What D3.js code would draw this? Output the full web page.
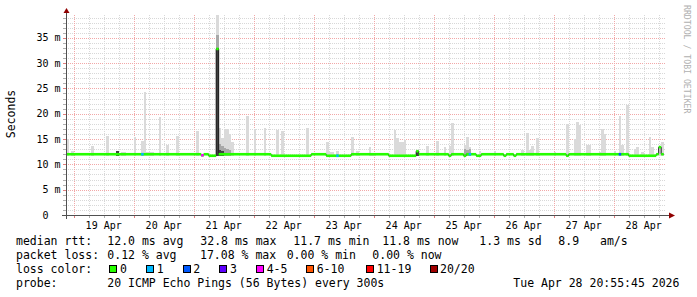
<!DOCTYPE html>
<html><head><meta charset="utf-8">
<script src="https://cdn.jsdelivr.net/npm/d3@7"></script>
<style>
html,body{margin:0;padding:0;background:#fff;}
svg{display:block;}
text{font-family:"DejaVu Sans Mono",monospace;white-space:pre;}
</style></head><body>
<svg id="c" width="697" height="297"></svg>
<script>
// ---------- DATA ----------
const startTime = new Date(2026,3,18,20,55,45);
const endTime   = new Date(2026,3,28,20,55,45);
const binOrigin = new Date(2026,3,19,0,0,0);   // hour bins counted from here
const yMax = 39.5;
const yTickValues = [0,5,10,15,20,25,30,35];
const yTickLabels = ["0","5 m","10 m","15 m","20 m","25 m","30 m","35 m"];
const yAxisTitle = "Seconds";

// smoke (ping spread) per hour bin, ms
const smokeBins = [-3,-1,7,13,17,19,20,24,27,28,29,30,31,34,37,41,49,57,58,59,60,61,62,63,69,72,76,81,83,93,101,102,103,105,111,113,118,119,120,128,129,130,131,132,137,141,145,148,150,151,156,157,158,162,168,179,181,182,183,185,192,197,200,201,202,205,206,210,211,212,216,218,219,221,224,225,227,230,231,234,235];
const smokeHi   = [15.0,12.6,13.6,15.7,12.6,12.5,12.5,15.5,14.7,24.3,12.5,12.5,12.5,19.3,13.8,15.7,16.5,39.5,17.2,15.2,17.0,16.9,16.0,14.5,19.6,17.0,17.1,16.7,16.6,17.1,14.5,12.4,12.4,12.6,15.5,12.6,13.4,12.3,12.3,16.7,15.3,14.4,14.4,14.8,12.8,13.7,14.7,13.4,13.7,18.2,13.9,15.4,13.5,12.7,12.7,12.8,16.2,12.8,13.7,15.2,12.4,17.9,15.1,18.3,17.7,13.9,13.9,12.4,17.0,15.9,12.6,19.5,13.9,21.7,13.0,13.5,12.4,15.4,13.5,13.6,14.5];
const smokeMid  = [0,0,0,0,0,0,0,0,0,0,0,0,0,0,0,0,0,35.5,14.0,13.6,13.3,13.0,12.8,0,0,0,0,0,0,0,0,0,0,0,0,0,0,0,0,0,0,0,0,0,0,0,0,0,0,0,13.0,12.8,13.0,0,0,0,0,0,0,0,0,0,0,0,0,0,0,0,0,0,0,0,0,0,0,0,0,0,0,0,0];
const smokeDark = [0,0,0,0,12.6,0,0,0,0,0,0,0,0,0,0,0,0,33.0,12.8,12.6,0,0,0,0,0,0,0,0,0,0,0,0,0,0,0,0,0,0,0,0,0,0,0,0,12.6,0,0,0,0,0,0,0,0,0,0,0,0,0,0,0,0,0,0,0,0,0,0,0,0,0,0,0,0,0,0,0,0,0,0,0,0];
const smokeFloor = 11.75;

// median rtt, step changes (bin index -> value in ms)
const medianFrom = [-4,51,52,54,57,58,79,95,101,111,126,137,138,150,151,156,157,161,163,172,173,176,177,197,198,222,233,234,235];
const medianVal  = [12.0,11.8,12.0,11.7,32.8,12.0,11.7,12.0,11.7,12.0,11.7,12.6,12.0,11.7,12.0,11.7,12.0,11.7,12.0,11.7,12.0,11.7,12.0,11.7,12.0,11.7,12.0,13.4,12.0];
const medianEndBin = 236;

// packet-loss colouring of the median
const lossBins  = [27,51,105,158,218];
const lossLevel = [1,4,1,1,2];
const lossColors = ["#26ff00","#00b8ff","#0059ff","#5e00ff","#ff00ff","#ff5500","#ff0000","#a00000"];
const lossLabels = ["0","1","2","3","4-5","6-10","11-19","20/20"];

// legend text
const rttLabel = "median rtt:";
const rttStats = ["12.0 ms avg","32.8 ms max","11.7 ms min","11.8 ms now","1.3 ms sd","8.9","am/s"];
const lossLabel = "packet loss:";
const lossStats = ["0.12 % avg","17.08 % max","0.00 % min","0.00 % now"];
const colorLabel = "loss color:";
const probeLabel = "probe:";
const probeText = "20 ICMP Echo Pings (56 Bytes) every 300s";
const stampText = "Tue Apr 28 20:55:45 2026";
const watermark = "RRDTOOL / TOBI OETIKER";

// ---------- LAYOUT ----------
const X0 = 66, X1 = 666, Y0 = 215, Y1 = 15;
const svg = d3.select("#c");
const x = d3.scaleTime().domain([startTime,endTime]).range([X0,X1]);
const y = d3.scaleLinear().domain([0,yMax]).range([Y0,Y1]);
const hr = i => d3.timeHour.offset(binOrigin, i);

svg.append("defs").append("clipPath").attr("id","clip")
  .append("rect").attr("x",X0).attr("y",Y1-5).attr("width",X1-X0).attr("height",Y0-Y1+5);

// grid
const grid = svg.append("g").attr("shape-rendering","crispEdges");
const hVals = d3.range(1, Math.floor(yMax)+1);
grid.selectAll(".hg").data(hVals).join("line")
  .attr("x1",X0).attr("x2",X1)
  .attr("y1",d=>Math.round(y(d))+0.5).attr("y2",d=>Math.round(y(d))+0.5)
  .attr("stroke",d=>d%5===0?"#f2a8a8":"#d8d8d8")
  .attr("stroke-dasharray","1,1");
const vTimes = d3.timeHour.every(6).range(startTime,endTime);
grid.selectAll(".vg").data(vTimes).join("line")
  .attr("x1",d=>Math.round(x(d))+0.5).attr("x2",d=>Math.round(x(d))+0.5)
  .attr("y1",Y1).attr("y2",Y0)
  .attr("stroke",d=>d.getHours()===0?"#f2a8a8":"#d8d8d8")
  .attr("stroke-dasharray","1,1");
// ticks
grid.selectAll(".ht").data([0,...hVals]).join("line")
  .attr("x1",X0-3).attr("x2",X0)
  .attr("y1",d=>Math.round(y(d))+0.5).attr("y2",d=>Math.round(y(d))+0.5)
  .attr("stroke",d=>d%5===0?"#e08080":"#b0b0b0");
grid.selectAll(".vt").data(vTimes).join("line")
  .attr("x1",d=>Math.round(x(d))+0.5).attr("x2",d=>Math.round(x(d))+0.5)
  .attr("y1",Y0).attr("y2",Y0+3)
  .attr("stroke",d=>d.getHours()===0?"#e08080":"#b0b0b0");

// smoke
const plot = svg.append("g").attr("clip-path","url(#clip)").attr("shape-rendering","crispEdges");
const smoke = smokeBins.map((b,k)=>({b,hi:smokeHi[k],mid:smokeMid[k],dark:smokeDark[k]}));
const bx = d => x(hr(d.b)), bw = d => x(hr(d.b+1)) - x(hr(d.b));
plot.selectAll(".s1").data(smoke).join("rect")
  .attr("x",bx).attr("width",bw)
  .attr("y",d=>y(d.hi)).attr("height",d=>y(smokeFloor)-y(d.hi))
  .attr("fill","#dadada");
plot.selectAll(".s2").data(smoke.filter(d=>d.mid>0)).join("rect")
  .attr("x",bx).attr("width",bw)
  .attr("y",d=>y(d.mid)).attr("height",d=>y(smokeFloor)-y(d.mid))
  .attr("fill","#a8a8a8");
plot.selectAll(".s3").data(smoke.filter(d=>d.dark>0)).join("rect")
  .attr("x",bx).attr("width",bw)
  .attr("y",d=>y(d.dark)).attr("height",d=>y(smokeFloor)-y(d.dark))
  .attr("fill","#404040");

// median
const segs = medianFrom.map((f,k)=>({from:f,to:k<medianFrom.length-1?medianFrom[k+1]:medianEndBin,v:medianVal[k]}));
const linePts = [];
segs.forEach(s=>{linePts.push([s.from,s.v]);});
linePts.push([medianEndBin, segs[segs.length-1].v]);
const line = d3.line().curve(d3.curveStepAfter).x(d=>x(hr(d[0]))).y(d=>y(d[1]));
const g2 = svg.append("g").attr("clip-path","url(#clip)");
g2.append("path").attr("d",line(linePts)).attr("fill","none").attr("stroke","#202020").attr("stroke-width",1);
const bandH = 2.6;
g2.selectAll(".band").data(segs).join("rect")
  .attr("x",d=>x(hr(d.from))).attr("width",d=>x(hr(d.to))-x(hr(d.from)))
  .attr("y",d=>y(d.v)-bandH/2).attr("height",bandH)
  .attr("fill",lossColors[0]);
const valAt = b => { let v = medianVal[0]; medianFrom.forEach((f,k)=>{ if (f<=b) v = medianVal[k]; }); return v; };
g2.selectAll(".loss").data(lossBins.map((b,k)=>({b,l:lossLevel[k]}))).join("rect")
  .attr("x",d=>x(hr(d.b))).attr("width",d=>x(hr(d.b+1))-x(hr(d.b)))
  .attr("y",d=>y(valAt(d.b))-bandH/2).attr("height",bandH)
  .attr("fill",d=>lossColors[d.l]);

// axes
const ax = svg.append("g").attr("shape-rendering","crispEdges");
ax.append("line").attr("x1",X0+0.5).attr("x2",X0+0.5).attr("y1",Y0+4).attr("y2",Y1-4).attr("stroke","#505050");
ax.append("line").attr("x1",X0-4).attr("x2",X1+5).attr("y1",Y0+0.5).attr("y2",Y0+0.5).attr("stroke","#505050");
svg.append("path").attr("d",`M${X0+0.5},${Y1-7}L${X0+3.5},${Y1-2}L${X0-2.5},${Y1-2}Z`).attr("fill","#900000");
svg.append("path").attr("d",`M${X1+9},${Y0+0.5}L${X1+3},${Y0+3.5}L${X1+3},${Y0-2.5}Z`).attr("fill","#900000");

// y labels
svg.selectAll(".yl").data(yTickValues).join("text")
  .attr("x",(d,i)=> yTickLabels[i].includes(" ") ? 60.5 : 48.5)
  .attr("y",d=>y(d)+3.5)
  .attr("text-anchor","end").attr("font-size","10px").attr("fill","#000")
  .text((d,i)=>yTickLabels[i]);
// x labels at noon
const noons = d3.timeDay.range(d3.timeDay.ceil(startTime), endTime).map(d=>d3.timeHour.offset(d,12)).filter(d=>d<endTime);
svg.selectAll(".xl").data(noons).join("text")
  .attr("x",d=>x(d)).attr("y",228.5)
  .attr("text-anchor","middle").attr("font-size","10px").attr("fill","#000")
  .text(d3.timeFormat("%d %b"));

// y title
svg.append("text").attr("transform","translate(15,114) rotate(-90)")
  .attr("text-anchor","middle").attr("font-size","11.5px").attr("fill","#000").text(yAxisTitle);
// watermark
svg.append("text").attr("transform","translate(684,5) rotate(90)")
  .attr("text-anchor","start").attr("font-size","8.2px").attr("fill","#b0b0b0").text(watermark);

// legend
const lf = "11.5px";
const L = svg.append("g").attr("font-size",lf).attr("fill","#000");
const row = (yy, items) => items.forEach(([t,xx])=>L.append("text").attr("x",xx).attr("y",yy).text(t));
const rttX = [107.3,200.3,293.3,382.3,479.3,558.3,600];
row(244.5, [[rttLabel,16], ...rttStats.map((t,i)=>[t,rttX[i]])]);
const lossX = [107.3,200,286.7,372.3];
row(258.5, [[lossLabel,16], ...lossStats.map((t,i)=>[t,lossX[i]])]);
row(272.7, [[colorLabel,16]]);
const boxX = [108.5,146,182.7,219.3,256,306,365.7,430];
const lblX = [120,156.7,193.3,230,266.7,316.7,376.7,440];
lossLabels.forEach((t,i)=>{
  L.append("rect").attr("x",Math.round(boxX[i])+0.5).attr("y",265.5).attr("width",7).attr("height",7)
    .attr("fill",lossColors[i]).attr("stroke","#000").attr("stroke-width",1);
  L.append("text").attr("x",lblX[i]).attr("y",272.7).text(t);
});
row(287, [[probeLabel,16],[probeText,107.3],[stampText,513.3]]);
</script>
</body></html>
